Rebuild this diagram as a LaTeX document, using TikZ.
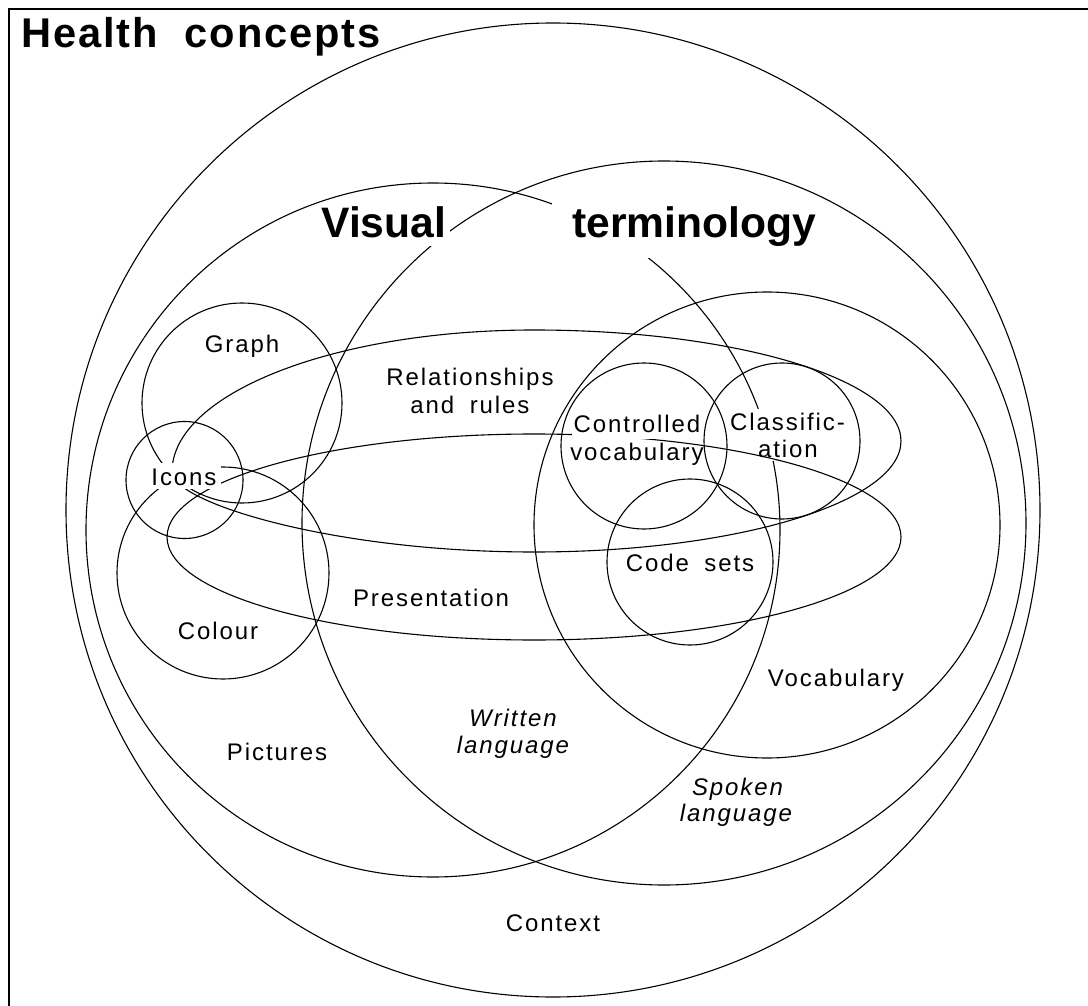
\documentclass[tikz,border=0pt]{standalone}
\usepackage{fontspec}
\setmainfont{Liberation Sans}
\newfontfamily\lblfont[LetterSpace=8,WordSpace=1.8]{Liberation Sans}
\newfontfamily\ttlfont[LetterSpace=4.5,WordSpace=2.0]{Liberation Sans}
\tikzset{
  frameline/.style={line width=1.25pt, line join=miter},
  shp/.style={line width=0.55pt},
  lbl/.style={font=\lblfont\fontsize{12pt}{14pt}\selectfont, inner sep=0pt, anchor=base},
  ital/.style={lbl, font=\lblfont\itshape\fontsize{12pt}{14pt}\selectfont},
  boldlbl/.style={font=\bfseries\fontsize{21.3pt}{25pt}\selectfont, anchor=base west},
  ttl/.style={font=\ttlfont\bfseries\fontsize{20.8pt}{25pt}\selectfont, anchor=base west, inner sep=0pt},
  mask/.style={fill=white}
}
\begin{document}
\begin{tikzpicture}[x=0.5pt,y=-0.5pt]
\useasboundingbox (0,0) rectangle (1088,1006);
% frame (only left and top edges visible)
\draw[frameline] (9,1012) -- (9,9) -- (1096,9);

% large circles
\draw[shp] (553,510) circle[radius=487];   % Context
\draw[shp] (433,530) circle[radius=347];   % Visual
\draw[shp] (664,523) circle[radius=362];   % terminology
\draw[shp] (767,525) circle[radius=233];   % Vocabulary

% small circles on the left
\draw[shp] (242,403) circle[radius=100];   % Graph
\draw[shp] (184.5,480) circle[radius=58.5];% Icons
\draw[shp] (223,573) circle[radius=106];   % Colour

% Relationships and rules
\draw[shp] (172,472) .. controls (172,394) and (333,330) .. (534,330)
  .. controls (737,330) and (901,380) .. (901,441)
  .. controls (901,502) and (737,552) .. (534,552)
  .. controls (331,552) and (172,502) .. (172,472) -- cycle;

% small circles on the right
\draw[shp] (644,446) circle[radius=83];    % Controlled vocabulary
\draw[shp] (782,441) circle[radius=78];    % Classification
\draw[shp] (690,562) circle[radius=83];    % Code sets

% big labels with white masks
\node[boldlbl, mask, inner xsep=2pt, inner ysep=0pt, text height=15pt, text depth=4.5pt] (visual) at (317,237) {Visual};
\node[boldlbl, mask, inner sep=0pt, text height=17pt, text depth=10.5pt] (terminology) at (552,237) {\hspace*{10pt}terminology};

% classification label
\node[lbl, mask, inner xsep=0.5pt, text height=10.5pt, text depth=3pt] (classif) at (787.5,430) {Classific-};
\node[lbl, mask, inner xsep=0.5pt, text height=10.5pt, text depth=2pt] (ation) at (788,457) {ation};

% Presentation
\draw[shp] (534,537) ellipse[x radius=367, y radius=103];

% masked labels on top
\node[lbl, mask, inner xsep=1pt, text height=8.5pt, text depth=3pt] (controlled) at (637,432.5) {Controlled};
\node[lbl, mask, inner xsep=2pt, text height=11pt, text depth=2pt] (icons) at (184,485) {Icons};

% title
\node[ttl] (title) at (21,48) {Health  concepts};

% other labels
\node[lbl] (vocab1) at (637,460.5) {vocabulary};
\node[lbl] (graph) at (242,352) {Graph};
\node[lbl] (rel1) at (470,385) {Relationships};
\node[lbl] (rel2) at (470,413) {and rules};
\node[lbl] (colour) at (218,639) {Colour};
\node[lbl] (presentation) at (431,606) {Presentation};
\node[lbl] (codesets) at (690,571.5) {Code sets};
\node[lbl] (vocabulary) at (836,686) {Vocabulary};
\node[ital] (written1) at (513,726) {Written};
\node[ital] (written2) at (513,753) {language};
\node[lbl] (pictures) at (277,760) {Pictures};
\node[ital] (spoken1) at (737.5,795) {Spoken};
\node[ital] (spoken2) at (736,821) {language};
\node[lbl] (context) at (553,931) {Context};
\end{tikzpicture}
\end{document}
